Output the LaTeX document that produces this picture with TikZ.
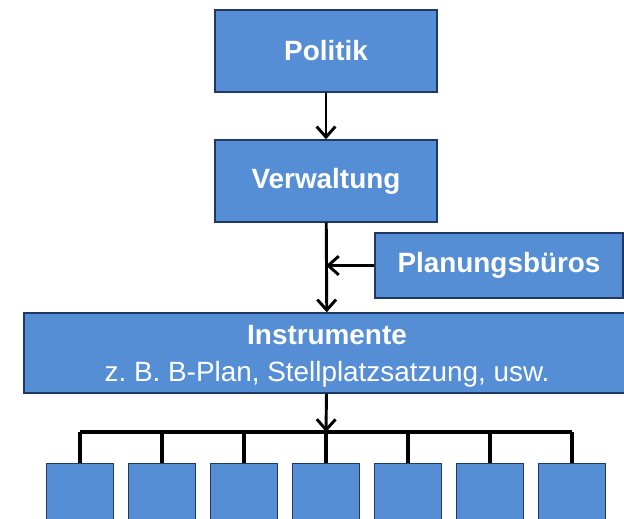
\documentclass[tikz,border=0pt]{standalone}
\usepackage{fontspec}
\setmainfont{Liberation Sans}
\usepackage{tikz}
\usetikzlibrary{arrows.meta}

\definecolor{kastenblau}{RGB}{85,142,213}
\definecolor{kastenrand}{RGB}{31,56,100}

\frenchspacing

\begin{document}
\begin{tikzpicture}[x=0.03cm,y=-0.03cm,
    kasten/.style={draw=kastenrand, line width=1.2pt, fill=kastenblau, text=white,
        inner sep=0pt, align=center, font=\fontsize{23.8}{31.5}\selectfont},
    pfeil/.style={line width=2.5pt, -{Straight Barb[length=9pt,width=16pt]}},
    linie/.style={line width=3.4pt}]
    \useasboundingbox (0,0) rectangle (624,518); % Bildrand

    % obere Kaesten
    \node[kasten, minimum width=6.66cm, minimum height=2.46cm] (politik) at (326,51) {\bfseries Politik};
    \node[kasten, minimum width=6.66cm, minimum height=2.46cm] (verwaltung) at (326,181) {\bfseries Verwaltung};
    \node[kasten, minimum width=7.44cm, minimum height=1.95cm] (planung) at (499,265.5) {\bfseries Planungsbüros};
    \node[kasten, minimum width=18.18cm, minimum height=2.4cm, text depth=0pt] (instrumente) at (327,353)
        {\bfseries Instrumente\\z. B. B-Plan, Stellplatzsatzung, usw.};

    % untere Kaesten, Abstand 82
    \node[kasten, anchor=north, minimum width=2.01cm, minimum height=2.01cm] (k1) at (80,463) {};
    \node[kasten, anchor=north, minimum width=2.01cm, minimum height=2.01cm] (k2) at (162,463) {};
    \node[kasten, anchor=north, minimum width=2.01cm, minimum height=2.01cm] (k3) at (244,463) {};
    \node[kasten, anchor=north, minimum width=2.01cm, minimum height=2.01cm] (k4) at (326,463) {};
    \node[kasten, anchor=north, minimum width=2.01cm, minimum height=2.01cm] (k5) at (408,463) {};
    \node[kasten, anchor=north, minimum width=2.01cm, minimum height=2.01cm] (k6) at (490,463) {};
    \node[kasten, anchor=north, minimum width=2.01cm, minimum height=2.01cm] (k7) at (572,463) {};

    \coordinate (einmuendung) at (verwaltung.south |- planung.west); % Planungsbueros muenden hier ein
    \coordinate (verteiler) at (326,432); % Hoehe der Sammelschiene

    % Pfeile
    \draw[pfeil] (politik) -- (verwaltung);
    \draw[pfeil] (verwaltung) -- (instrumente);
    \draw[pfeil] (planung.west) -- (einmuendung);
    \draw[pfeil] (instrumente) -- (verteiler);

    % Sammelschiene und Abzweige
    \draw[linie] (k1.north |- verteiler) -- (k7.north |- verteiler);
    \draw[linie] (k1.north |- verteiler) -- (k1.north)
                 (k2.north |- verteiler) -- (k2.north)
                 (k3.north |- verteiler) -- (k3.north)
                 (k4.north |- verteiler) -- (k4.north)
                 (k5.north |- verteiler) -- (k5.north)
                 (k6.north |- verteiler) -- (k6.north)
                 (k7.north |- verteiler) -- (k7.north);
\end{tikzpicture}
\end{document}
